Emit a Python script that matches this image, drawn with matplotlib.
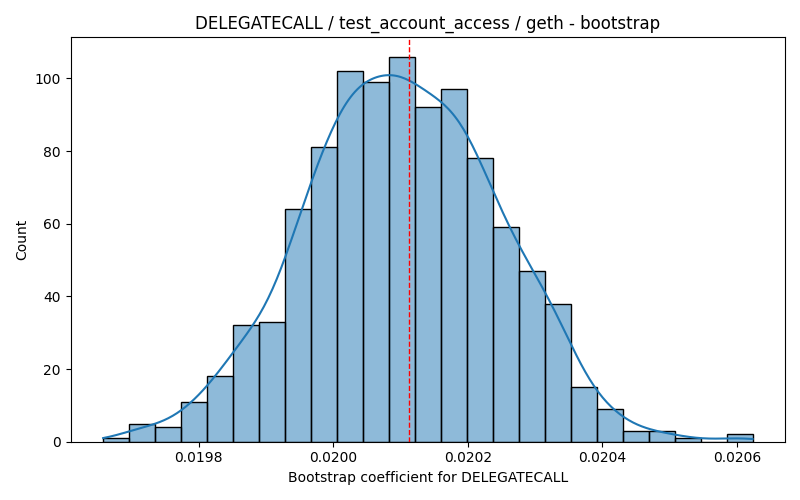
import numpy as np
import matplotlib
matplotlib.use("Agg")
import matplotlib.pyplot as plt

# -----------------------------
# DATA
# -----------------------------
coef_min = 0.019658
coef_max = 0.020623
counts = [1, 5, 4, 11, 18, 32, 33, 64, 81, 102, 99, 106, 92,
          97, 78, 59, 47, 38, 15, 9, 3, 3, 1, 0, 2]
point_estimate = 0.020113

title = "DELEGATECALL / test_account_access / geth - bootstrap"
x_label = "Bootstrap coefficient for DELEGATECALL"

# -----------------------------
# HISTOGRAM + KDE
# -----------------------------
counts = np.array(counts, dtype=float)
edges = np.linspace(coef_min, coef_max, len(counts) + 1)
centers = (edges[:-1] + edges[1:]) / 2
width = edges[1] - edges[0]
n = counts.sum()

mean = np.sum(counts * centers) / n
var = np.sum(counts * (centers - mean) ** 2) / n
# remove the variance added by binning (Sheppard)
std = np.sqrt(var - width ** 2 / 12)
bw = std * n ** (-1 / 5)

grid = np.linspace(coef_min, coef_max, 300)
dens = (counts[:, None] * np.exp(-0.5 * ((grid[None, :] - centers[:, None]) / bw) ** 2)).sum(axis=0)
dens = dens / (n * bw * np.sqrt(2 * np.pi))

fig, ax = plt.subplots(figsize=(8, 5), dpi=100)
ax.bar(centers, counts, width=width, facecolor=(0.122, 0.467, 0.706, 0.5),
       edgecolor="black", linewidth=1)
ax.plot(grid, dens * n * width, color="#1f77b4", linewidth=1.5)
ax.axvline(point_estimate, color="red", linestyle="--", linewidth=1)

ax.set_title(title)
ax.set_xlabel(x_label)
ax.set_ylabel("Count")
plt.tight_layout()
plt.savefig("out.png")
